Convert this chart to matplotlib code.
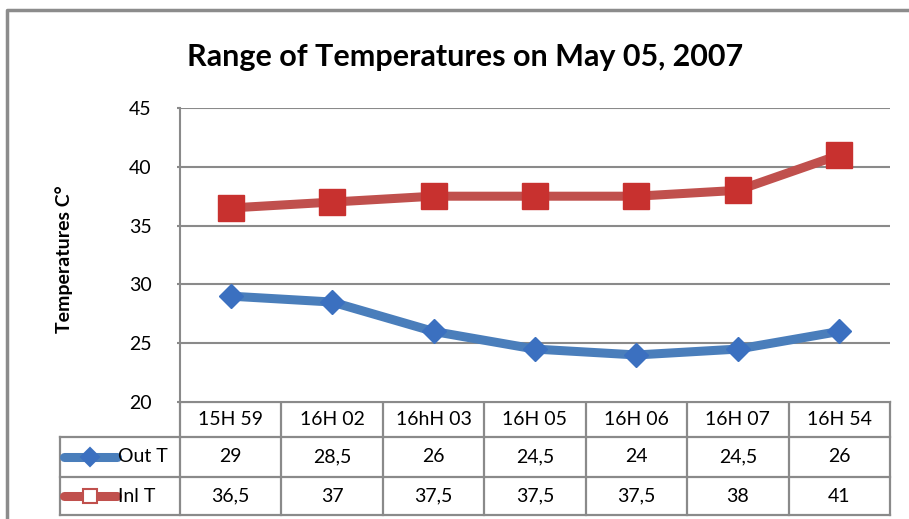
import matplotlib
matplotlib.use('Agg')
import matplotlib.pyplot as plt

times = ['15H 59', '16H 02', '16hH 03', '16H 05', '16H 06', '16H 07', '16H 54']
out_t = [29, 28.5, 26, 24.5, 24, 24.5, 26]
inl_t = [36.5, 37, 37.5, 37.5, 37.5, 38, 41]
series_names = ['Out T', 'Inl T']
yticks = [20, 25, 30, 35, 40, 45]

plt.rcParams['font.family'] = ['Lato', 'DejaVu Sans']

W, H = 909, 519
fig = plt.figure(figsize=(W / 100, H / 100), dpi=100)

# plot area in pixels
L, R, T, B = 180, 890, 108, 402
ax = fig.add_axes([L / W, 1 - B / H, (R - L) / W, (B - T) / H])

grid_c = '#8a8a8a'
blue_l, blue_m = '#4A7EBB', '#3B70C0'
red_l, red_m = '#C0504D', '#C8312F'

x = range(len(times))
ax.plot(x, out_t, color=blue_l, lw=6.5, marker='D', ms=12.5,
        mfc=blue_m, mec=blue_m, zorder=3, solid_joinstyle='round')
ax.plot(x, inl_t, color=red_l, lw=6.5, marker='s', ms=18.5,
        mfc=red_m, mec=red_m, zorder=3)

ax.set_xlim(-0.5, len(times) - 0.5)
ax.set_ylim(20, 45)
ax.set_yticks(yticks)
ax.set_xticks([])
ax.yaxis.grid(True, color=grid_c, lw=1.5)
ax.set_axisbelow(True)
for s in ['top', 'right', 'bottom']:
    ax.spines[s].set_visible(False)
ax.spines['left'].set_color(grid_c)
ax.spines['left'].set_linewidth(1.5)
ax.tick_params(axis='y', length=2.5, width=1.5, color=grid_c, pad=18, labelsize=14)
ax.set_ylabel('Temperatures C°', fontsize=14, fontweight='bold')
ax.yaxis.set_label_coords(-(L - 73) / (R - L), (B - 259) / (B - T))

fig.text(465 / W, 1 - 57 / H, 'Range of Temperatures on May 05, 2007',
         ha='center', va='center', fontsize=22, fontweight='bold')

# overlay in pixel coords for the data table and the frame
bg = fig.add_axes([0, 0, 1, 1], zorder=-1)
bg.set_xlim(0, W)
bg.set_ylim(H, 0)
bg.axis('off')

# outer chart frame
bg.plot([7, 7, W], [H, 10, 10], color='#8c8c8c', lw=2.5)

# data table
n = len(times)
cw = (R - L) / n
edges = [L + k * cw for k in range(n + 1)]
rows = [B, 437, 477, 515]
left = 60
tc = '#8a8a8a'
tlw = 1.6
bg.plot([L, R], [rows[0], rows[0]], color=tc, lw=tlw)
for yy in rows[1:]:
    bg.plot([left, R], [yy, yy], color=tc, lw=tlw)
bg.plot([left, left], [rows[1], rows[3]], color=tc, lw=tlw)
for xx in edges:
    bg.plot([xx, xx], [rows[0], rows[3]], color=tc, lw=tlw)

fmt = lambda v: f'{v:g}'.replace('.', ',')
for i, t in enumerate(times):
    cx = (edges[i] + edges[i + 1]) / 2
    bg.text(cx, (rows[0] + rows[1]) / 2, t, ha='center', va='center', fontsize=14)
    bg.text(cx, (rows[1] + rows[2]) / 2, fmt(out_t[i]), ha='center', va='center', fontsize=14)
    bg.text(cx, (rows[2] + rows[3]) / 2, fmt(inl_t[i]), ha='center', va='center', fontsize=14)

# legend keys inside the row headers
styles = [(blue_l, 'D', blue_m, blue_m, 9), (red_l, 's', 'white', red_l, 10)]
for k, name in enumerate(series_names):
    cy = (rows[k + 1] + rows[k + 2]) / 2
    lc, mk, mf, me, ms = styles[k]
    bg.plot([64, 117], [cy, cy], color=lc, lw=6.5, solid_capstyle='round')
    bg.plot([90], [cy], marker=mk, ms=ms, mfc=mf, mec=me, mew=1.5)
    bg.text(118, cy, name, ha='left', va='center', fontsize=14)

fig.savefig('out.png', dpi=100)
